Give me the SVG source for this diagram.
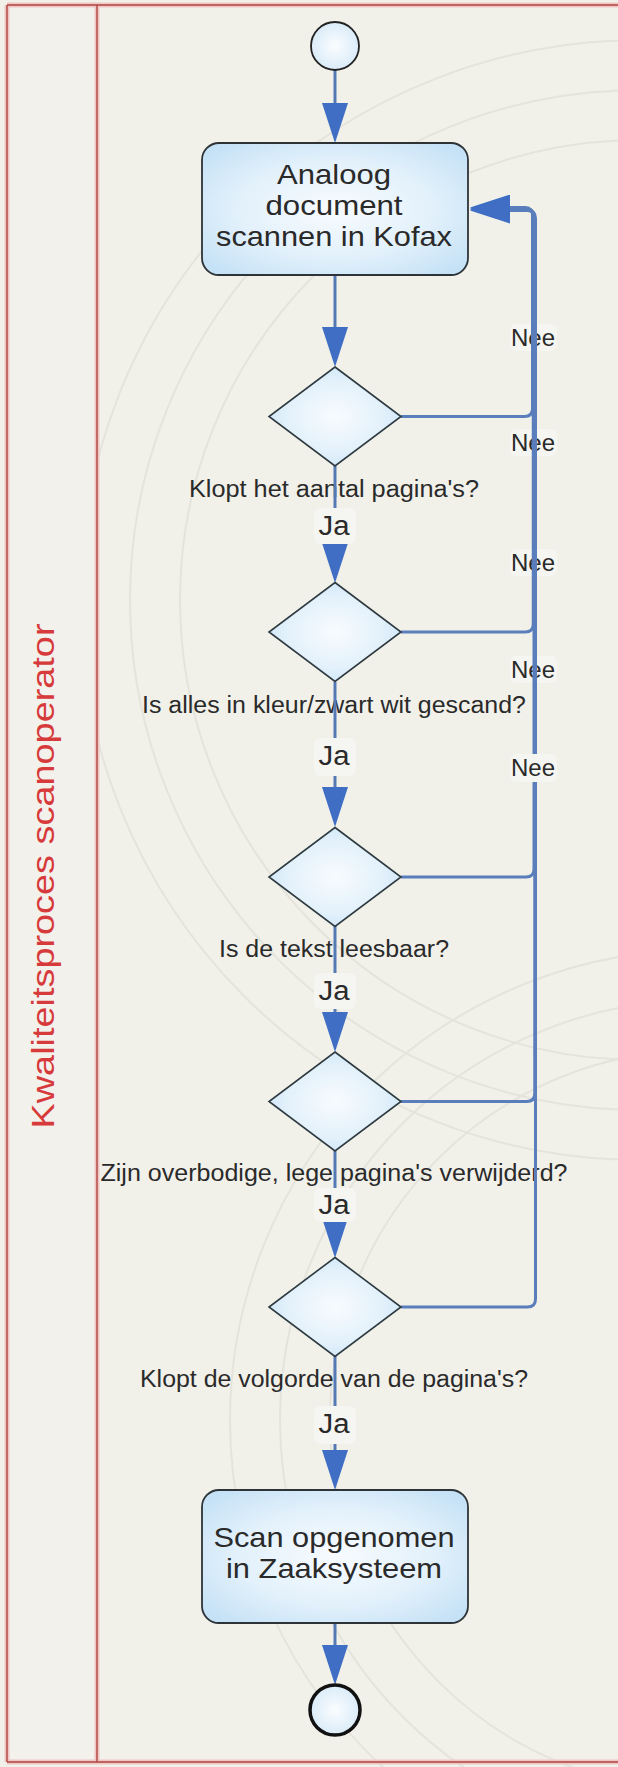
<svg xmlns="http://www.w3.org/2000/svg" width="618" height="1767" viewBox="0 0 618 1767">
  <defs>
    <radialGradient id="nodeFill" cx="50%" cy="50%" r="65%">
      <stop offset="0" stop-color="#f8fbfe"/>
      <stop offset="0.55" stop-color="#e3f1fb"/>
      <stop offset="1" stop-color="#c4e1f6"/>
    </radialGradient>
    <radialGradient id="circleFill" cx="50%" cy="50%" r="60%">
      <stop offset="0" stop-color="#fbfdff"/>
      <stop offset="1" stop-color="#d3e8f7"/>
    </radialGradient>
    <marker id="head" viewBox="0 0 40 26" refX="32" refY="13" markerWidth="40" markerHeight="26" markerUnits="userSpaceOnUse" orient="auto">
      <path d="M0,0 L40,13 L0,26 Z" fill="#3f6ec4"/>
    </marker>
    <style>
      .flow { fill: none; stroke: #5479b5; stroke-width: 3; marker-end: url(#head); }
      .loop { fill: none; stroke: #5a7ebb; stroke-width: 3; marker-end: url(#head); }
      .box { fill: url(#nodeFill); stroke: #2e3338; stroke-width: 1.8; }
      .dia { fill: url(#nodeFill); stroke: #2e3a40; stroke-width: 1.6; }
      .txt { font-family: "Liberation Sans", Arial, sans-serif; fill: #2a2a2a; text-anchor: middle; }
      .node { font-size: 28px; }
      .q { font-size: 23px; }
      .ja { font-size: 27px; }
      .nee { font-size: 24px; }
      .halo { fill: #f5f5f1; }
      .arc { fill: none; stroke: #e4e4dc; stroke-width: 2; }
      .laneGlow { stroke: #f0c6c4; stroke-width: 5; fill: none; }
      .laneLine { stroke: #b0443f; stroke-width: 1.4; fill: none; }
    </style>
  </defs>

  <!-- canvas -->
  <rect x="0" y="0" width="618" height="1767" fill="#f1f1ea"/>

  <!-- faint decorative rings -->
  <g id="backdrop">
    <circle class="arc" cx="640" cy="600" r="560"/>
    <circle class="arc" cx="640" cy="600" r="510"/>
    <circle class="arc" cx="640" cy="600" r="460"/>
    <circle class="arc" cx="700" cy="1420" r="470"/>
    <circle class="arc" cx="700" cy="1420" r="420"/>
    <circle class="arc" cx="700" cy="1420" r="370"/>
  </g>

  <!-- swimlane frame -->
  <g id="lane">
    <rect x="7" y="5" width="90" height="1757" fill="#f3f1ec"/>
    <path class="laneGlow" d="M7,5 H618 M7,5 V1762 M97,5 V1762 M7,1762 H618"/>
    <path class="laneLine" d="M7,5 H618 M7,5 V1762 M97,5 V1762 M7,1762 H618"/>
    <text class="txt" transform="translate(54,876) rotate(-90)" font-size="32" style="fill:#d73a3a" textLength="505" lengthAdjust="spacingAndGlyphs">Kwaliteitsproces scanoperator</text>
  </g>

  <!-- question labels under the decisions -->
  <g id="questions">
    <text class="txt q" x="334" y="497" textLength="290" lengthAdjust="spacingAndGlyphs">Klopt het aantal pagina's?</text>
    <text class="txt q" x="334" y="713" textLength="384" lengthAdjust="spacingAndGlyphs">Is alles in kleur/zwart wit gescand?</text>
    <text class="txt q" x="334" y="957" textLength="230" lengthAdjust="spacingAndGlyphs">Is de tekst leesbaar?</text>
    <text class="txt q" x="334" y="1181" textLength="467" lengthAdjust="spacingAndGlyphs">Zijn overbodige, lege pagina's verwijderd?</text>
    <text class="txt q" x="334" y="1387" textLength="388" lengthAdjust="spacingAndGlyphs">Klopt de volgorde van de pagina's?</text>
  </g>

  <!-- "Nee" labels lying under the return line -->
  <g id="nee-labels">
    <rect class="halo" x="510" y="324" width="47" height="27" rx="6"/>
    <text class="txt nee" x="533" y="346">Nee</text>
    <rect class="halo" x="510" y="429" width="47" height="27" rx="6"/>
    <text class="txt nee" x="533" y="451">Nee</text>
    <rect class="halo" x="510" y="549" width="47" height="27" rx="6"/>
    <text class="txt nee" x="533" y="571">Nee</text>
    <rect class="halo" x="510" y="656" width="47" height="27" rx="6"/>
    <text class="txt nee" x="533" y="678">Nee</text>
  </g>

  <!-- connectors -->
  <g id="connectors">
    <path class="flow" d="M335,70 V135"/>
    <path class="flow" d="M335,275 V359"/>
    <path class="flow" d="M335,466 V575"/>
    <path class="flow" d="M335,682 V819"/>
    <path class="flow" d="M335,926 V1044"/>
    <path class="flow" d="M335,1151 V1250"/>
    <path class="flow" d="M335,1356 V1482"/>
    <path class="flow" d="M335,1623 V1677"/>
    <!-- "Nee" returns to the scan step -->
    <path class="loop" d="M401,416.5 H524.5 Q532.5,416.5 532.5,408.5 V215.5 Q532.5,207.5 524.5,207.5 H478"/>
    <path class="loop" d="M401,632 H525.25 Q533.25,632 533.25,624 V216.25 Q533.25,208.25 525.25,208.25 H478"/>
    <path class="loop" d="M401,877 H526 Q534,877 534,869 V217 Q534,209 526,209 H478"/>
    <path class="loop" d="M401,1101.5 H526.75 Q534.75,1101.5 534.75,1093.5 V217.75 Q534.75,209.75 526.75,209.75 H478"/>
    <path class="loop" d="M401,1307 H527.5 Q535.5,1307 535.5,1299 V218.5 Q535.5,210.5 527.5,210.5 H478"/>
  </g>

  <!-- nodes -->
  <g id="start">
    <circle cx="335" cy="46" r="24" fill="url(#circleFill)" stroke="#222" stroke-width="1.8"/>
  </g>
  <g id="scan">
    <rect class="box" x="202" y="143" width="266" height="132" rx="17"/>
    <text class="txt node" x="334" y="184" textLength="114" lengthAdjust="spacingAndGlyphs">Analoog</text>
    <text class="txt node" x="334" y="215" textLength="137" lengthAdjust="spacingAndGlyphs">document</text>
    <text class="txt node" x="334" y="246" textLength="236" lengthAdjust="spacingAndGlyphs">scannen in Kofax</text>
  </g>
  <g id="check-pages">
    <polygon class="dia" points="335,367 401,416.5 335,466 269,416.5"/>
  </g>
  <g id="check-colour">
    <polygon class="dia" points="335,582.5 401,632 335,681.5 269,632"/>
  </g>
  <g id="check-legible">
    <polygon class="dia" points="335,827.5 401,877 335,926.5 269,877"/>
  </g>
  <g id="check-blank">
    <polygon class="dia" points="335,1052 401,1101.5 335,1151 269,1101.5"/>
  </g>
  <g id="check-order">
    <polygon class="dia" points="335,1257.5 401,1307 335,1356.5 269,1307"/>
  </g>
  <g id="store">
    <rect class="box" x="202" y="1490" width="266" height="133" rx="17"/>
    <text class="txt node" x="334" y="1547" textLength="241" lengthAdjust="spacingAndGlyphs">Scan opgenomen</text>
    <text class="txt node" x="334" y="1578" textLength="216" lengthAdjust="spacingAndGlyphs">in Zaaksysteem</text>
  </g>
  <g id="end">
    <circle cx="335" cy="1710" r="25" fill="url(#circleFill)" stroke="#111" stroke-width="3.5"/>
  </g>

  <!-- "Ja" labels and the last "Nee" label -->
  <g id="flow-labels">
    <rect class="halo" x="314" y="508" width="42" height="36" rx="6"/>
    <text class="txt ja" x="334" y="535" textLength="31" lengthAdjust="spacingAndGlyphs">Ja</text>
    <rect class="halo" x="314" y="738" width="42" height="38" rx="6"/>
    <text class="txt ja" x="334" y="765" textLength="31" lengthAdjust="spacingAndGlyphs">Ja</text>
    <rect class="halo" x="314" y="973" width="42" height="36" rx="6"/>
    <text class="txt ja" x="334" y="1000" textLength="31" lengthAdjust="spacingAndGlyphs">Ja</text>
    <rect class="halo" x="314" y="1188" width="42" height="34" rx="6"/>
    <text class="txt ja" x="334" y="1214" textLength="31" lengthAdjust="spacingAndGlyphs">Ja</text>
    <rect class="halo" x="314" y="1406" width="42" height="38" rx="6"/>
    <text class="txt ja" x="334" y="1433" textLength="31" lengthAdjust="spacingAndGlyphs">Ja</text>
    <rect class="halo" x="510" y="754" width="47" height="28" rx="6"/>
    <text class="txt nee" x="533" y="776">Nee</text>
  </g>
</svg>
